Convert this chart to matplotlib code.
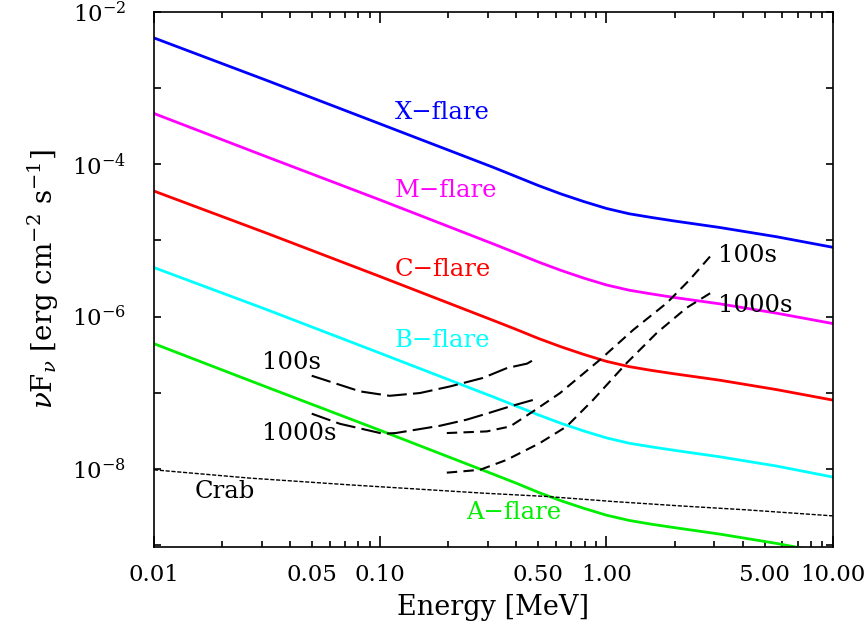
import math
import matplotlib
matplotlib.use("Agg")
import matplotlib.pyplot as plt
from matplotlib.ticker import FixedLocator, FuncFormatter, NullLocator

plt.rcParams['font.family'] = ['DejaVu Serif']
plt.rcParams['mathtext.fontset'] = 'dejavuserif'

# flare spectra (MeV, erg cm^-2 s^-1)
flare_energy = [0.01, 0.0316, 0.1, 0.316, 0.398, 0.501, 0.631, 0.794, 1.0, 1.259, 1.585,
                1.995, 3.162, 5.623, 10.0]
x_flare = [4.57e-3, 1.26e-3, 3.39e-4, 9.12e-5, 6.92e-5, 5.25e-5, 4.07e-5, 3.24e-5, 2.63e-5,
           2.24e-5, 2.0e-5, 1.80e-5, 1.48e-5, 1.12e-5, 8.13e-6]
m_flare = [4.65e-4, 1.25e-4, 3.4e-5, 9.0e-6, 6.85e-6, 5.2e-6, 4.03e-6, 3.2e-6, 2.6e-6,
           2.22e-6, 1.98e-6, 1.78e-6, 1.47e-6, 1.11e-6, 8.1e-7]
c_flare = [4.45e-5, 1.24e-5, 3.35e-6, 8.9e-7, 6.8e-7, 5.15e-7, 4.0e-7, 3.18e-7, 2.58e-7,
           2.2e-7, 1.96e-7, 1.77e-7, 1.46e-7, 1.1e-7, 8.0e-8]
b_flare = [4.4e-6, 1.23e-6, 3.3e-7, 8.8e-8, 6.7e-8, 5.1e-8, 3.95e-8, 3.14e-8, 2.55e-8,
           2.17e-8, 1.94e-8, 1.75e-8, 1.44e-8, 1.09e-8, 7.8e-9]
a_flare = [4.4e-7, 1.18e-7, 3.2e-8, 8.5e-9, 6.5e-9, 4.9e-9, 3.8e-9, 3.03e-9, 2.46e-9,
           2.1e-9, 1.87e-9, 1.69e-9, 1.39e-9, 1.05e-9, 7.6e-10]

# Crab nebula spectrum
crab_energy = [0.01, 0.0265, 0.0736, 0.286, 0.545, 1.07, 2.11, 4.17, 10.0]
crab_flux = [9.7e-9, 7.55e-9, 6.15e-9, 4.79e-9, 4.33e-9, 3.72e-9, 3.26e-9, 2.89e-9, 2.41e-9]

# sensitivities, low energy instrument
low_100s_energy = [0.0498, 0.0815, 0.110, 0.150, 0.204, 0.284, 0.364, 0.446, 0.493]
low_100s_flux = [1.67e-7, 1.04e-7, 9.1e-8, 9.9e-8, 1.21e-7, 1.56e-7, 2.11e-7, 2.41e-7, 2.86e-7]
low_1000s_energy = [0.0498, 0.0664, 0.103, 0.117, 0.184, 0.241, 0.305, 0.375, 0.493]
low_1000s_flux = [5.3e-8, 3.9e-8, 2.89e-8, 2.95e-8, 3.68e-8, 4.42e-8, 5.46e-8, 6.6e-8, 8.3e-8]

# sensitivities, high energy instrument
high_100s_energy = [0.197, 0.296, 0.375, 0.475, 0.624, 0.938, 1.315, 1.85, 2.34, 2.97]
high_100s_flux = [2.95e-8, 3.1e-8, 3.6e-8, 5.7e-8, 9.9e-8, 2.72e-7, 6.7e-7, 1.51e-6, 3.07e-6, 6.9e-6]
high_1000s_energy = [0.197, 0.276, 0.362, 0.508, 0.667, 0.875, 1.23, 1.67, 2.26, 2.97]
high_1000s_flux = [8.9e-9, 9.7e-9, 1.31e-8, 2.18e-8, 3.6e-8, 8.1e-8, 2.46e-7, 6.1e-7, 1.3e-6, 2.15e-6]

x_labels = {0.01: '0.01', 0.05: '0.05', 0.1: '0.10', 0.5: '0.50', 1.0: '1.00', 5.0: '5.00', 10.0: '10.00'}

fig = plt.figure(figsize=(8.66, 6.23), dpi=100)
ax = fig.add_axes([0.1778, 0.122, 0.7837, 0.8587])

green = '#00ee00'
flares = [(x_flare, 'blue'), (m_flare, 'magenta'), (c_flare, 'red'),
          (b_flare, 'cyan'), (a_flare, green)]
for flux, col in flares:
    ax.plot(flare_energy, flux, color=col, lw=2.0)

ax.plot(crab_energy, crab_flux, color='black', lw=1.0, dashes=(3, 1.2))

long_dash = (9.5, 3.0)
short_dash = (5.0, 3.0)
ax.plot(low_100s_energy, low_100s_flux, color='black', lw=1.5, dashes=long_dash)
ax.plot(low_1000s_energy, low_1000s_flux, color='black', lw=1.5, dashes=long_dash)
ax.plot(high_100s_energy, high_100s_flux, color='black', lw=1.5, dashes=short_dash)
ax.plot(high_1000s_energy, high_1000s_flux, color='black', lw=1.5, dashes=short_dash)

ax.set_xscale('log')
ax.set_yscale('log')
ax.set_xlim(0.01, 10)
ax.set_ylim(9.4e-10, 1e-2)

# labels on the curves
fs = 17.5
ax.text(0.116, 4.83e-4, 'X\u2212flare', color='blue', fontsize=fs, va='center')
ax.text(0.116, 4.48e-5, 'M\u2212flare', color='magenta', fontsize=fs, va='center')
ax.text(0.116, 4.15e-6, 'C\u2212flare', color='red', fontsize=fs, va='center')
ax.text(0.116, 4.83e-7, 'B\u2212flare', color='cyan', fontsize=fs, va='center')
ax.text(0.239, 2.64e-9, 'A\u2212flare', color=green, fontsize=fs, va='center')
ax.text(0.0152, 4.98e-9, 'Crab', color='black', fontsize=fs, va='center')
ax.text(0.030, 2.48e-7, '100s', color='black', fontsize=fs, va='center')
ax.text(0.030, 2.89e-8, '1000s', color='black', fontsize=fs, va='center')
ax.text(3.11, 6.35e-6, '100s', color='black', fontsize=fs, va='center')
ax.text(3.11, 1.40e-6, '1000s', color='black', fontsize=fs, va='center')

# x ticks: decades long, 2..9 short, a few of the short ones labelled
ax.xaxis.set_major_locator(FixedLocator([0.01, 0.1, 1.0, 10.0]))
ax.xaxis.set_minor_locator(FixedLocator([m * d for d in (0.01, 0.1, 1.0) for m in range(2, 10)]))
fmt_x = FuncFormatter(lambda v, pos: next((s for k, s in x_labels.items() if abs(v / k - 1) < 1e-6), ''))
ax.xaxis.set_major_formatter(fmt_x)
ax.xaxis.set_minor_formatter(fmt_x)


def fmt_y(v, pos):
    e = round(math.log10(v))
    return '$10^{%d}$' % e if e % 2 == 0 else ''


# y ticks every decade, labels on even exponents
ax.yaxis.set_major_locator(FixedLocator([10.0 ** e for e in range(-9, -1)]))
ax.yaxis.set_minor_locator(NullLocator())
ax.yaxis.set_major_formatter(FuncFormatter(fmt_y))

ax.tick_params(which='both', direction='in', top=True, right=True, labelsize=16.5, width=1.2)
ax.tick_params(axis='x', which='major', length=8, pad=12)
ax.tick_params(axis='x', which='minor', length=4, pad=12)
ax.tick_params(axis='y', which='major', length=5, pad=20)
for s in ax.spines.values():
    s.set_linewidth(1.2)

ax.set_xlabel('Energy [MeV]', fontsize=19.5, labelpad=6)
ax.set_ylabel(r'$\nu$F$_\nu$ [erg cm$^{-2}$ s$^{-1}$]', fontsize=20, labelpad=8)

fig.savefig('out.png', dpi=100)
